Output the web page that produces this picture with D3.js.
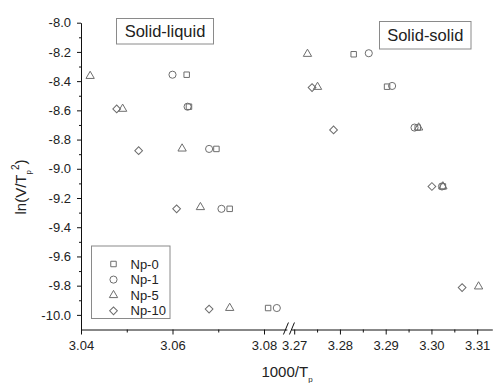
<!DOCTYPE html>
<html>
<head>
<meta charset="utf-8">
<script src="https://cdn.jsdelivr.net/npm/d3@7"></script>
<style>
  body { margin: 0; background: #fff; }
  svg { font-family: "Liberation Sans", Arial, sans-serif; }
  .axis path, .axis line { stroke: #111; }
  .axis text { fill: #222; font-size: 13px; }
</style>
</head>
<body>
<div id="chart"></div>
<script>
// series: Kissinger points, x = 1000/Tp, y = ln(V/Tp^2)
var np0X = [3.0631, 3.0636, 3.0696, 3.0725, 3.0809, 3.2830, 3.2903, 3.2970, 3.3025];
var np0Y = [-8.356, -8.575, -8.864, -9.274, -9.953, -8.216, -8.438, -8.718, -9.121];
var np1X = [3.0600, 3.0633, 3.0680, 3.0707, 3.0828, 3.2863, 3.2914, 3.2963, 3.3023];
var np1Y = [-8.356, -8.575, -8.864, -9.274, -9.953, -8.209, -8.433, -8.718, -9.121];
var np5X = [3.0420, 3.0491, 3.0621, 3.0661, 3.0725, 3.2729, 3.2751, 3.2972, 3.3025, 3.3103];
var np5Y = [-8.365, -8.590, -8.862, -9.263, -9.953, -8.214, -8.440, -8.718, -9.121, -9.806];
var np10X = [3.0478, 3.0526, 3.0609, 3.0680, 3.2739, 3.2786, 3.3001, 3.3067];
var np10Y = [-8.590, -8.876, -9.274, -9.960, -8.444, -8.734, -9.121, -9.813];

var seriesNames = ["Np-0", "Np-1", "Np-5", "Np-10"];

var xTicksLeft = [3.04, 3.06, 3.08];
var xMinorLeft = [3.05, 3.07];
var xTicksRight = [3.27, 3.28, 3.29, 3.30, 3.31];
var xMinorRight = [3.275, 3.285, 3.295, 3.305];
var yTicks = [-8.0, -8.2, -8.4, -8.6, -8.8, -9.0, -9.2, -9.4, -9.6, -9.8, -10.0];
var yMinor = [-8.1, -8.3, -8.5, -8.7, -8.9, -9.1, -9.3, -9.5, -9.7, -9.9];

var w = 494, h = 383;
var axisY = 329.5, axisX = 81;
var pxPer = 4575; // px per unit on both x segments

var xL = d3.scaleLinear().domain([3.04, 3.085]).range([axisX, axisX + 0.045 * pxPer]);
var xR = d3.scaleLinear().domain([3.2693, 3.3133]).range([291, 291 + 0.044 * pxPer]);
var x = function(v) { return v < 3.2 ? xL(v) : xR(v); };
var y = d3.scaleLinear().domain([-10.1, -8.0]).range([axisY, 22.7]);

var svg = d3.select("#chart").append("svg")
    .attr("width", w)
    .attr("height", h);

// points
var shapes = [d3.symbolSquare, d3.symbolCircle, d3.symbolTriangle, d3.symbolSquare];
var sizes = [30, 40, 30, 30];
var rot = [0, 0, 0, 45];
var allX = [np0X, np1X, np5X, np10X];
var allY = [np0Y, np1Y, np5Y, np10Y];

var sym = function(i) { return d3.symbol().type(shapes[i]).size(sizes[i])(); };

seriesNames.forEach(function(name, i) {
    var pts = allX[i].map(function(v, j) { return [v, allY[i][j]]; });
    svg.append("g")
        .attr("class", "series")
        .selectAll("path")
        .data(pts)
        .enter()
        .append("path")
        .attr("d", sym(i))
        .attr("transform", function(d) {
            return "translate(" + x(d[0]) + "," + y(d[1]) + ") rotate(" + rot[i] + ")";
        })
        .attr("fill", "none")
        .attr("stroke", "#6e6e6e")
        .attr("stroke-width", 1);
});

// axes
var fmt2 = function(d) { return d.toFixed(2); };

function xAxis(scale, major, minor) {
    var g = svg.append("g").attr("class", "axis")
        .attr("transform", "translate(0," + axisY + ")");
    g.call(d3.axisBottom(scale).tickValues(major).tickSize(5).tickSizeOuter(0)
        .tickPadding(6).tickFormat(fmt2));
    svg.append("g").attr("class", "axis")
        .attr("transform", "translate(0," + axisY + ")")
        .call(d3.axisBottom(scale).tickValues(minor).tickSize(3).tickSizeOuter(0)
            .tickFormat(""))
        .select(".domain").remove();
}
xAxis(xL, xTicksLeft, xMinorLeft);
xAxis(xR, xTicksRight, xMinorRight);

var gy = svg.append("g").attr("class", "axis")
    .attr("transform", "translate(" + axisX + ",0)");
gy.call(d3.axisLeft(y).tickValues(yTicks).tickSize(4).tickSizeOuter(0)
    .tickPadding(6).tickFormat(function(d) { return d.toFixed(1); }));
svg.append("g").attr("class", "axis")
    .attr("transform", "translate(" + axisX + ",0)")
    .call(d3.axisLeft(y).tickValues(yMinor).tickSize(2).tickSizeOuter(0).tickFormat(""))
    .select(".domain").remove();

// axis break marks
var bx = (xL.range()[1] + xR.range()[0]) / 2;
[-3, 3].forEach(function(o) {
    svg.append("line")
        .attr("x1", bx + o - 2.5).attr("y1", axisY + 5)
        .attr("x2", bx + o + 2.5).attr("y2", axisY - 7)
        .attr("stroke", "#111").attr("stroke-width", 1);
});

// axis titles
var xt = svg.append("text")
    .attr("x", 287).attr("y", 377)
    .attr("text-anchor", "middle")
    .style("font-size", "15px").style("fill", "#222");
xt.append("tspan").text("1000/T");
xt.append("tspan").attr("dy", 5).style("font-size", "8px").text("p");

var yt = svg.append("text")
    .attr("transform", "translate(26,187) rotate(-90)")
    .attr("text-anchor", "middle")
    .style("font-size", "15px").style("fill", "#222");
yt.append("tspan").text("ln(V/T");
yt.append("tspan").attr("dy", 5).style("font-size", "8px").text("p");
yt.append("tspan").attr("dy", -12).style("font-size", "10px").text("2");
yt.append("tspan").attr("dy", 7).text(")");

// region labels
function boxLabel(bxX, bxY, bw, bh, label) {
    svg.append("rect")
        .attr("x", bxX).attr("y", bxY).attr("width", bw).attr("height", bh)
        .attr("fill", "#fff").attr("stroke", "#8a8a8a").attr("stroke-width", 1);
    svg.append("text")
        .attr("x", bxX + bw / 2).attr("y", bxY + bh / 2 + 6)
        .attr("text-anchor", "middle")
        .style("font-size", "16.5px").style("fill", "#222")
        .text(label);
}
boxLabel(116.5, 18.5, 97, 25.5, "Solid-liquid");
boxLabel(379.5, 21.5, 91.5, 27.5, "Solid-solid");

// legend
var leg = svg.append("g").attr("transform", "translate(91.5,246)");
leg.append("rect")
    .attr("width", 78.5).attr("height", 72.5)
    .attr("fill", "#fff").attr("stroke", "#8a8a8a").attr("stroke-width", 1);
seriesNames.forEach(function(name, i) {
    var row = leg.append("g").attr("transform", "translate(22," + (18 + i * 15.6) + ")");
    row.append("path")
        .attr("d", sym(i))
        .attr("transform", "rotate(" + rot[i] + ")")
        .attr("fill", "none").attr("stroke", "#6e6e6e");
    row.append("text")
        .attr("x", 17).attr("y", 4.5)
        .style("font-size", "13px").style("fill", "#222")
        .text(name);
});
</script>
</body>
</html>
